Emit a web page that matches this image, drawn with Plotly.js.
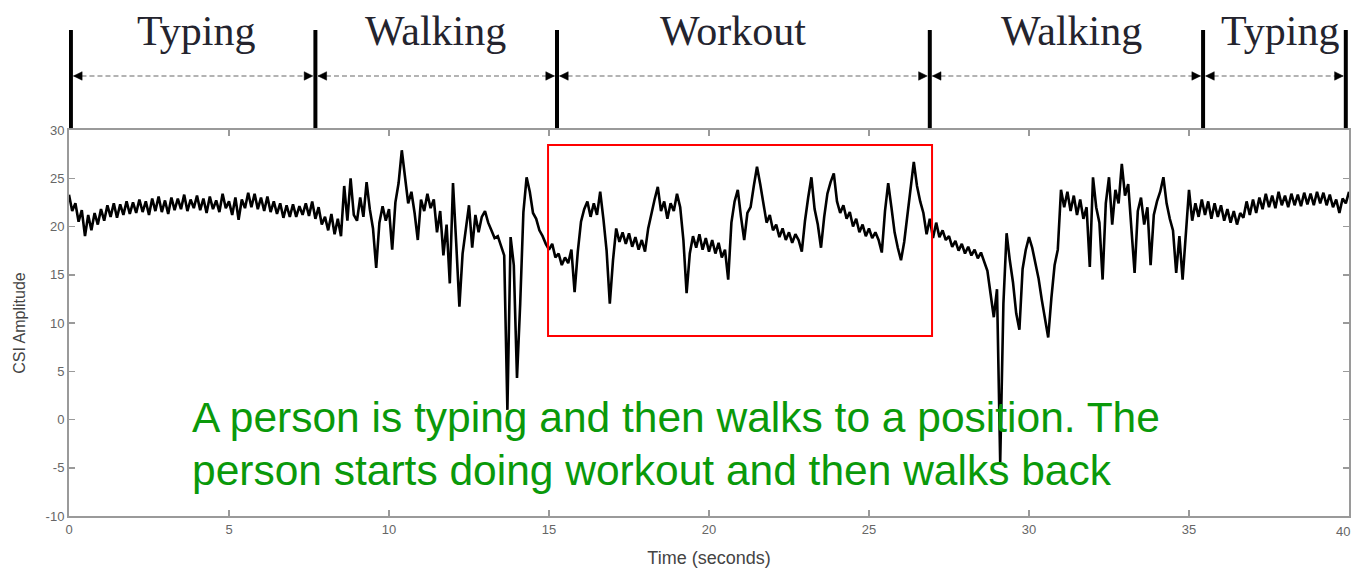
<!DOCTYPE html>
<html>
<head>
<meta charset="utf-8">
<script src="https://cdn.plot.ly/plotly-3.0.1.min.js"></script>
<style>
  html, body { margin: 0; padding: 0; background: #fff; }
  #chart { width: 1353px; height: 572px; }
</style>
</head>
<body>
<div id="chart"></div>
<script>
// Sample spacing of the CSI trace (seconds)
const SAMPLE_STEP = 0.1;

// CSI amplitude, 10 samples per second
const amp0to10 = [
  23.3, 21.6, 22.4, 20.5, 21.7, 19.0, 21.2, 19.6, 21.4, 20.2,
  21.8, 20.6, 22.2, 21.0, 22.4, 20.9, 22.3, 21.2, 22.6, 21.3,
  22.5, 21.4, 22.8, 21.5, 22.6, 21.2, 22.9, 21.6, 23.1, 21.5,
  22.7, 21.3, 23.0, 21.7, 22.9, 21.8, 23.3, 21.6, 22.8, 21.9,
  23.2, 21.7, 22.9, 21.4, 23.1, 21.8, 22.7, 21.5, 23.4, 21.9,
  22.6, 21.2, 23.0, 20.7, 22.8, 21.9, 23.5, 22.0, 23.4, 21.8,
  23.0, 21.6, 23.1, 21.5, 22.6, 21.3, 22.4, 20.9, 22.2, 21.0,
  22.3, 21.0, 22.1, 21.2, 22.4, 21.1, 22.6, 20.8, 22.0, 20.2,
  21.0, 19.6, 21.3, 19.2, 20.8, 19.0, 24.2, 20.6, 25.0, 21.2,
  20.6, 23.0, 21.0, 24.6, 21.8, 19.8, 15.7, 20.4, 22.1, 20.6
];
const amp10to20 = [
  21.8, 17.6, 22.5, 24.5, 27.9, 25.2, 22.4, 23.6, 21.4, 18.6,
  22.8, 21.6, 23.4, 21.9, 22.8, 19.4, 21.6, 17.0, 20.2, 14.1,
  24.5, 18.3, 11.7, 17.2, 19.6, 22.2, 17.8, 21.2, 19.4, 21.0,
  21.6, 20.4, 19.6, 18.8, 19.0, 17.9, 17.0, 1.0, 18.9, 16.0,
  4.3, 12.0, 21.5, 25.1, 23.6, 21.4, 20.8, 19.6, 19.0, 18.2,
  17.6, 18.2, 16.8, 17.2, 16.0, 16.8, 16.2, 17.6, 13.2, 17.4,
  20.5, 21.8, 22.6, 21.0, 22.4, 21.2, 23.6, 20.8, 17.5, 12.0,
  16.5, 19.8, 18.4, 19.4, 18.2, 19.3, 17.9, 18.9, 17.6, 18.6,
  17.4, 19.8, 21.5, 22.8, 24.1, 21.6, 22.6, 20.8, 22.4, 21.6,
  23.4, 22.0, 18.6, 13.1, 17.2, 19.0, 17.8, 19.2, 17.6, 18.8
];
const amp20to30 = [
  17.4, 18.6, 17.2, 18.3, 16.8, 17.6, 14.5, 20.4, 22.6, 23.8,
  21.0, 18.6, 21.4, 22.0, 24.2, 26.2, 24.4, 22.6, 20.4, 21.2,
  19.6, 20.2, 18.9, 19.8, 18.6, 19.4, 18.3, 19.2, 18.6, 17.4,
  20.6, 23.0, 25.1, 21.8, 20.2, 17.8, 21.0, 23.4, 24.6, 25.5,
  22.6, 21.4, 22.2, 20.8, 21.5, 20.0, 20.8, 19.4, 20.2, 19.0,
  19.8, 18.8, 19.4, 18.6, 17.3, 21.6, 24.5, 22.0, 19.4, 17.8,
  16.5, 18.4, 21.2, 23.8, 26.7, 24.2, 22.6, 21.4, 19.2, 20.8,
  18.8, 20.4, 18.9, 19.6, 18.6, 19.0, 17.9, 18.5, 17.5, 18.2,
  17.2, 17.9, 17.0, 17.6, 16.7, 17.3, 16.4, 15.4, 13.0, 10.6,
  13.5, -4.4, 12.0, 19.3, 16.5, 14.2, 11.0, 9.3, 15.6, 17.6
];
const amp30to40 = [
  18.9, 17.8, 16.2, 14.6, 12.4, 10.2, 8.5, 12.6, 16.0, 17.6,
  23.8, 22.0, 23.6, 21.6, 23.2, 21.2, 22.8, 20.8, 22.0, 15.8,
  25.1, 22.0, 20.4, 14.5, 22.4, 25.1, 20.2, 23.8, 22.4, 26.5,
  23.2, 24.4, 19.8, 15.2, 21.6, 23.0, 20.2, 22.0, 16.0, 21.2,
  22.6, 23.6, 25.1, 22.4, 20.8, 19.6, 15.2, 19.0, 14.5, 19.4,
  23.8, 20.6, 22.4, 21.0, 22.8, 21.2, 22.6, 20.8, 22.4, 21.0,
  22.2, 20.6, 21.8, 20.4, 21.6, 20.2, 21.4, 20.9, 22.6, 21.2,
  22.8, 21.4, 23.0, 21.8, 23.4, 22.0, 23.2, 21.9, 23.6, 22.2,
  23.2, 22.0, 23.4, 22.2, 23.3, 22.1, 23.5, 22.3, 23.4, 22.2,
  23.6, 22.4, 23.5, 22.2, 23.3, 22.0, 22.8, 21.4, 22.9, 22.4,
  23.6
];

// Activity phases
const phaseNames = ['Typing', 'Walking', 'Workout', 'Walking', 'Typing'];
const phaseBounds = [0.06, 7.7, 15.25, 26.9, 35.44, 39.9];
const phaseLabelX = [3.97, 11.44, 20.75, 31.34, 37.84];

// Highlighted workout window (time range, amplitude range)
const boxTime = [14.97, 26.97];
const boxAmp = [8.65, 28.45];

// Axis ticks
const xTicks = [0, 5, 10, 15, 20, 25, 30, 35, 40];
const yTicks = [-10, -5, 0, 5, 10, 15, 20, 25, 30];

const noteLines = [
  'A person is typing and then walks to a position. The',
  'person starts doing workout and then walks back'
];

const amplitude = amp0to10.concat(amp10to20, amp20to30, amp30to40);
const time = amplitude.map((_, i) => +(i * SAMPLE_STEP).toFixed(2));

const trace = {
  x: time, y: amplitude, type: 'scatter', mode: 'lines',
  line: { color: '#000', width: 2.6 }, hoverinfo: 'skip'
};

// geometry of the phase markers (paper y above the plot)
const barY0 = 1.005, barY1 = 1.259, arrowY = 1.14, labelY = 1.256;
const headW = 0.27, headH = 0.011;

const shapes = [];
phaseBounds.forEach(b => {
  shapes.push({ type: 'line', xref: 'x', yref: 'paper', x0: b, x1: b, y0: barY0, y1: barY1,
    line: { color: '#000', width: 4 } });
});
for (let i = 0; i < phaseNames.length; i++) {
  const a = phaseBounds[i] + 0.08, c = phaseBounds[i + 1] - 0.08;
  shapes.push({ type: 'line', xref: 'x', yref: 'paper', x0: a, x1: c, y0: arrowY, y1: arrowY,
    line: { color: '#9a9a9a', width: 1.5, dash: '5px,3px' } });
  shapes.push({ type: 'path', xref: 'x', yref: 'paper', fillcolor: '#000', line: { color: '#000', width: 0.5 },
    path: `M ${a} ${arrowY} L ${a + headW} ${arrowY + headH} L ${a + headW} ${arrowY - headH} Z` });
  shapes.push({ type: 'path', xref: 'x', yref: 'paper', fillcolor: '#000', line: { color: '#000', width: 0.5 },
    path: `M ${c} ${arrowY} L ${c - headW} ${arrowY + headH} L ${c - headW} ${arrowY - headH} Z` });
}
shapes.push({ type: 'rect', xref: 'x', yref: 'y', x0: boxTime[0], x1: boxTime[1], y0: boxAmp[0], y1: boxAmp[1],
  line: { color: '#ff0000', width: 2 } });

const tickFont = { family: 'Liberation Sans, Arial, sans-serif', size: 13, color: '#666' };

const annotations = phaseNames.map((n, i) => ({
  text: n, xref: 'x', yref: 'paper', x: phaseLabelX[i], y: labelY, showarrow: false,
  xanchor: 'center', yanchor: 'middle',
  font: { family: 'Liberation Serif, Times New Roman, serif', size: 42, color: '#24242e' }
}));
annotations.push({
  text: noteLines[0], xref: 'paper', yref: 'paper', x: 0.0945, y: 0.254, xanchor: 'left', yanchor: 'middle',
  showarrow: false, font: { family: 'Liberation Sans, Arial, sans-serif', size: 42.5, color: '#0a990a' }
});
annotations.push({
  text: noteLines[1], xref: 'paper', yref: 'paper', x: 0.0945, y: 0.119, xanchor: 'left', yanchor: 'middle',
  showarrow: false, font: { family: 'Liberation Sans, Arial, sans-serif', size: 42.5, color: '#0a990a' }
});
// last x tick label, kept inside the page edge
annotations.push({
  text: String(xTicks[xTicks.length - 1]), xref: 'paper', yref: 'paper', x: 1.0025, y: 0, yshift: -15,
  xanchor: 'right', yanchor: 'middle', showarrow: false, font: tickFont
});

const axisCommon = {
  showline: true, linecolor: '#9a9a9a', linewidth: 2, mirror: 'ticks',
  ticks: 'inside', ticklen: 6, tickcolor: '#9a9a9a', tickwidth: 1.5,
  showgrid: false, zeroline: false,
  tickfont: tickFont
};

const layout = {
  width: 1353, height: 572,
  margin: { l: 69, r: 4, t: 130, b: 56 },
  paper_bgcolor: '#fff', plot_bgcolor: '#fff',
  showlegend: false,
  xaxis: Object.assign({}, axisCommon, {
    range: [0, 40], tickvals: xTicks,
    ticktext: xTicks.map((v, i) => i === xTicks.length - 1 ? '' : String(v)),
    title: { text: 'Time (seconds)', standoff: 16,
      font: { family: 'Liberation Sans, Arial, sans-serif', size: 18, color: '#444' } }
  }),
  yaxis: Object.assign({}, axisCommon, {
    range: [-10, 30], tickvals: yTicks, ticktext: yTicks.map(String),
    title: { text: 'CSI Amplitude', standoff: 16,
      font: { family: 'Liberation Sans, Arial, sans-serif', size: 16, color: '#444' } }
  }),
  shapes: shapes,
  annotations: annotations
};

Plotly.newPlot('chart', [trace], layout, { displayModeBar: false, staticPlot: true });
</script>
</body>
</html>
